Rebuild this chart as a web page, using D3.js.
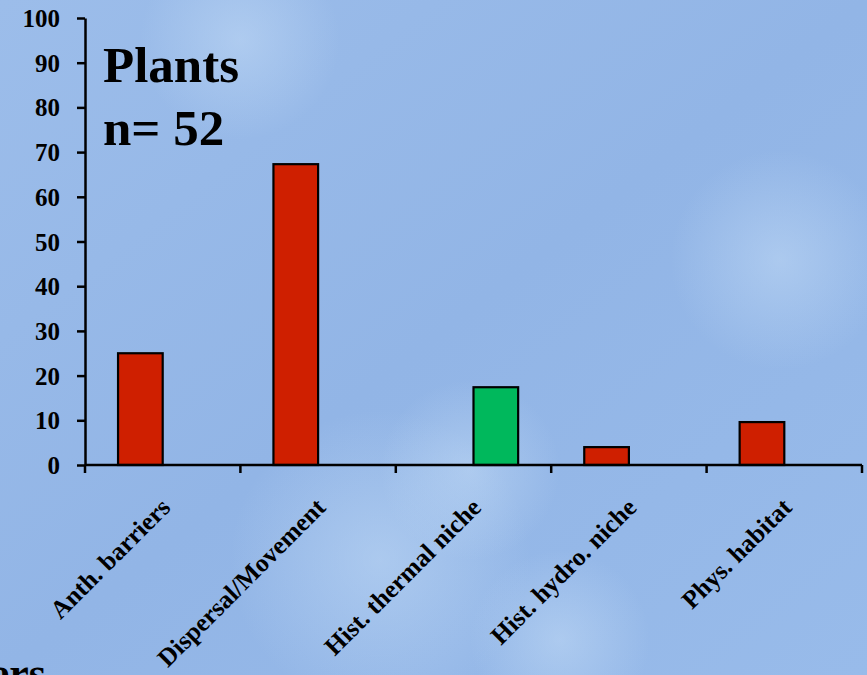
<!DOCTYPE html>
<html>
<head>
<meta charset="utf-8">
<script src="https://cdn.jsdelivr.net/npm/d3@7/dist/d3.min.js"></script>
<style>
  html, body { margin: 0; padding: 0; }
  body { width: 867px; height: 675px; overflow: hidden; }
  svg { display: block; }
</style>
</head>
<body>
<svg id="chart" width="867" height="675"></svg>
<script>
const categories = ["Anth. barriers", "Dispersal/Movement", "Hist. thermal niche", "Hist. hydro. niche", "Phys. habitat"];
const seriesNames = ["red", "green"];
const redValues = [25, 67.3, null, 4, 9.6];
const greenValues = [null, null, 17.4, null, null];
const yTicks = [0, 10, 20, 30, 40, 50, 60, 70, 80, 90, 100];
const titleLines = ["Plants", "n= 52"];

const seriesValues = { red: redValues, green: greenValues };
const seriesColors = { red: "#cf1f00", green: "#00b85c" };

const svg = d3.select("#chart");
const W = 867, H = 675;

// background
const defs = svg.append("defs");
const bg = defs.append("linearGradient").attr("id", "bg").attr("x1", 0).attr("y1", 0).attr("x2", 1).attr("y2", 1);
bg.append("stop").attr("offset", "0%").attr("stop-color", "#9cbdea");
bg.append("stop").attr("offset", "50%").attr("stop-color", "#92b5e6");
bg.append("stop").attr("offset", "100%").attr("stop-color", "#98bbea");
svg.append("rect").attr("width", W).attr("height", H).attr("fill", "url(#bg)");

const blob = defs.append("radialGradient").attr("id", "blob");
blob.append("stop").attr("offset", "0%").attr("stop-color", "#c4dcf6").attr("stop-opacity", 0.5);
blob.append("stop").attr("offset", "100%").attr("stop-color", "#c4dcf6").attr("stop-opacity", 0);
[[380, 560, 150], [470, 470, 90], [240, 40, 100], [780, 260, 110], [560, 640, 90]].forEach(([cx, cy, r]) => {
  svg.append("circle").attr("cx", cx).attr("cy", cy).attr("r", r).attr("fill", "url(#blob)");
});

const x0 = 85, x1 = 862, yBase = 465, yTop = 18;
const x = d3.scaleBand().domain(categories).range([x0, x1]).paddingInner(0).paddingOuter(0);
const xs = d3.scaleBand().domain(seriesNames).range([0, x.bandwidth()]).paddingInner(0).paddingOuter(0.74);
const y = d3.scaleLinear().domain([0, 100]).range([yBase, yTop]);

const font = "'Liberation Serif', 'Times New Roman', serif";

// bars
seriesNames.forEach(s => {
  svg.append("g").selectAll("rect")
    .data(categories.map((c, i) => ({ c, v: seriesValues[s][i] })).filter(d => d.v != null))
    .join("rect")
    .attr("x", d => x(d.c) + xs(s))
    .attr("y", d => y(d.v))
    .attr("width", xs.bandwidth())
    .attr("height", d => y(0) - y(d.v))
    .attr("fill", seriesColors[s])
    .attr("stroke", "#000")
    .attr("stroke-width", 2.2);
});

// y axis
const yAxis = svg.append("g").attr("transform", `translate(${x0},0)`)
  .call(d3.axisLeft(y).tickValues(yTicks).tickSize(8).tickSizeOuter(0).tickPadding(17));
yAxis.select(".domain").attr("stroke", "#000").attr("stroke-width", 2.5);
yAxis.selectAll(".tick line").attr("stroke", "#000").attr("stroke-width", 2.5);
yAxis.selectAll(".tick text").attr("font-family", font).attr("font-weight", "bold")
  .attr("font-size", 25).attr("fill", "#000").attr("dy", "0.34em");

// x axis line and boundary ticks
svg.append("line").attr("x1", x0).attr("x2", x1).attr("y1", yBase).attr("y2", yBase)
  .attr("stroke", "#000").attr("stroke-width", 2.5);
const bounds = categories.map(c => x(c)).concat([x1]);
svg.append("g").selectAll("line").data(bounds).join("line")
  .attr("x1", d => d).attr("x2", d => d).attr("y1", yBase).attr("y2", yBase + 8)
  .attr("stroke", "#000").attr("stroke-width", 2.5);

// category labels
svg.append("g").selectAll("text").data(categories).join("text")
  .attr("transform", d => `translate(${x(d) + x.bandwidth() / 2 + 9},${yBase + 44}) rotate(-45)`)
  .attr("text-anchor", "end")
  .attr("font-family", font).attr("font-weight", "bold").attr("font-size", 25.5)
  .attr("fill", "#000")
  .text(d => d);

// title
svg.append("g").selectAll("text").data(titleLines).join("text")
  .attr("x", 103).attr("y", (d, i) => 82 + i * 63)
  .attr("font-family", font).attr("font-weight", "bold").attr("font-size", 51)
  .attr("fill", "#000")
  .text(d => d);

// cut-off text at bottom-left
svg.append("text").attr("x", 46).attr("y", 688).attr("text-anchor", "end")
  .attr("font-family", font).attr("font-weight", "bold").attr("font-size", 44)
  .attr("fill", "#000").text("ers");
</script>
</body>
</html>
